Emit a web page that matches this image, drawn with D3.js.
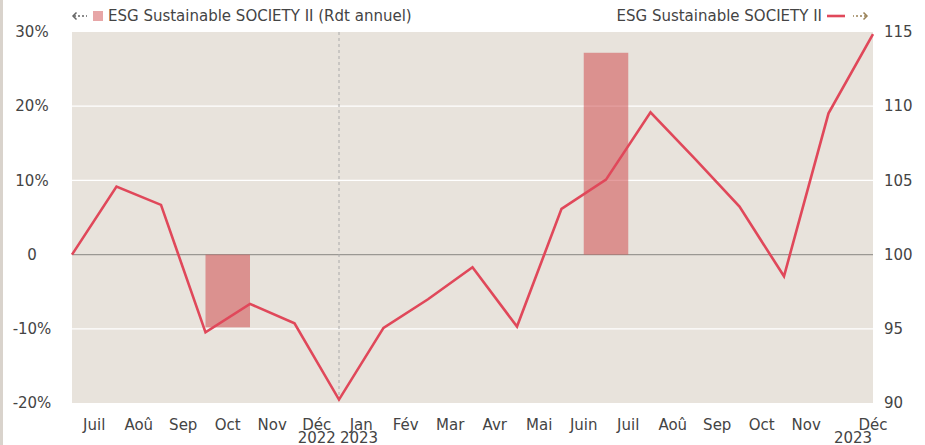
<!DOCTYPE html>
<html>
<head>
<meta charset="utf-8">
<script src="https://cdn.jsdelivr.net/npm/d3@7"></script>
<style>
  body { margin: 0; background: #fff; }
  text { font-family: "DejaVu Sans", Verdana, sans-serif; fill: #444; }
</style>
</head>
<body>
<script>
// month labels (one per interval), last label sits at the end point
const months = ["Juil", "Aoû", "Sep", "Oct", "Nov", "Déc", "Jan", "Fév", "Mar", "Avr",
                "Mai", "Juin", "Juil", "Aoû", "Sep", "Oct", "Nov", "Déc"];
const years = [{ i: 5.5, label: "2022" }, { i: 6.45, label: "2023" }, { i: 17.55, label: "2023" }];

// base 100 series, month ends from juin 2022 to déc 2023
const navValues = [100, 104.58, 103.35, 94.76, 96.68, 95.37, 90.23, 95.06, 96.99, 99.15,
                   95.15, 103.08, 105.05, 109.59, 106.45, 103.23, 98.54, 109.52, 114.85];

// annual return bars (start position on the month index, %)
const barStart = [3, 11.5];
const barValues = [-9.8, 27.2];

const leftTicks = [-20, -10, 0, 10, 20, 30];
const rightTicks = [90, 95, 100, 105, 110, 115];

const width = 925, height = 445;
const margin = { top: 32, right: 52, bottom: 42, left: 72 };
const innerW = width - margin.left - margin.right,
      innerH = height - margin.top - margin.bottom;

const svg = d3.select("body").append("svg")
    .attr("width", width)
    .attr("height", height);

svg.append("rect").attr("x", 0).attr("y", 0).attr("width", 3).attr("height", height)
    .attr("fill", "#d9d3cc");

const g = svg.append("g")
    .attr("transform", `translate(${margin.left}, ${margin.top})`);

const x = d3.scaleLinear().domain([0, navValues.length - 1]).range([0, innerW]);
const yL = d3.scaleLinear().domain([-20, 30]).range([innerH, 0]);
const yR = d3.scaleLinear().domain([90, 115]).range([innerH, 0]);

g.append("rect")
    .attr("width", innerW)
    .attr("height", innerH)
    .attr("fill", "#e8e3dc");

// gridlines
g.selectAll(".grid")
    .data(leftTicks.filter(d => d > -20 && d < 30))
    .enter().append("line")
    .attr("x1", 0).attr("x2", innerW)
    .attr("y1", d => yL(d)).attr("y2", d => yL(d))
    .attr("stroke", d => d === 0 ? "#9a9893" : "#fff")
    .attr("stroke-width", 1.2);

// year separator
g.append("line")
    .attr("x1", x(6)).attr("x2", x(6))
    .attr("y1", 0).attr("y2", innerH)
    .attr("stroke", "#aaa")
    .attr("stroke-dasharray", "3,3");

// bars
g.selectAll(".bar")
    .data(barValues)
    .enter().append("rect")
    .attr("x", (d, i) => x(barStart[i]))
    .attr("width", (d, i) => x(barStart[i] + 1) - x(barStart[i]))
    .attr("y", d => yL(Math.max(0, d)))
    .attr("height", d => Math.abs(yL(d) - yL(0)))
    .attr("fill", "#d04e50")
    .attr("opacity", 0.55);

// line
const line = d3.line()
    .x((d, i) => x(i))
    .y(d => yR(d));

g.append("path")
    .datum(navValues)
    .attr("d", line)
    .attr("fill", "none")
    .attr("stroke", "#e0485a")
    .attr("stroke-width", 2.6)
    .attr("stroke-linejoin", "miter");

// left axis labels
g.selectAll(".lt")
    .data(leftTicks)
    .enter().append("text")
    .attr("x", -40)
    .attr("y", d => yL(d))
    .attr("dy", "0.35em")
    .attr("text-anchor", "middle")
    .style("font-size", "15px")
    .text(d => d === 0 ? "0" : d + "%");

// right axis labels
g.selectAll(".rt")
    .data(rightTicks)
    .enter().append("text")
    .attr("x", innerW + 11)
    .attr("y", d => yR(d))
    .attr("dy", "0.35em")
    .style("font-size", "15px")
    .text(d => d);

// month labels
g.selectAll(".mt")
    .data(months)
    .enter().append("text")
    .attr("x", (d, i) => i === months.length - 1 ? x(navValues.length - 1) : x(i + 0.5))
    .attr("y", innerH + 27)
    .attr("text-anchor", "middle")
    .style("font-size", "15px")
    .text(d => d);

g.selectAll(".yt")
    .data(years)
    .enter().append("text")
    .attr("x", d => x(d.i))
    .attr("y", innerH + 40)
    .attr("text-anchor", "middle")
    .style("font-size", "15px")
    .text(d => d.label);

// legend arrows drawn as small dashed paths
function arrow(sel, dir, color) {
  const a = sel.append("g").attr("transform", dir < 0 ? "" : "scale(-1,1)");
  a.append("path").attr("d", "M4.5,-3.5 L1,0 L4.5,3.5")
      .attr("fill", "none").attr("stroke", color).attr("stroke-width", 1.5);
  a.append("line").attr("x1", 2).attr("x2", 15).attr("y1", 0).attr("y2", 0)
      .attr("stroke", color).attr("stroke-width", 1.5).attr("stroke-dasharray", "2,2");
}

const legL = svg.append("g").attr("transform", "translate(72, 16)");
arrow(legL, -1, "#666");
legL.append("rect").attr("x", 21).attr("y", -5).attr("width", 10).attr("height", 10)
    .attr("fill", "#d04e50").attr("opacity", 0.5);
legL.append("text").attr("x", 36).attr("dy", "0.35em")
    .style("font-size", "15px").text("ESG Sustainable SOCIETY II (Rdt annuel)");

const legR = svg.append("g").attr("transform", "translate(868, 16)");
arrow(legR, 1, "#9a8258");
legR.append("line").attr("x1", -41).attr("x2", -23).attr("y1", 0).attr("y2", 0)
    .attr("stroke", "#e0485a").attr("stroke-width", 2.6);
legR.append("text").attr("x", -46).attr("dy", "0.35em").attr("text-anchor", "end")
    .style("font-size", "15px").text("ESG Sustainable SOCIETY II");
</script>
</body>
</html>
